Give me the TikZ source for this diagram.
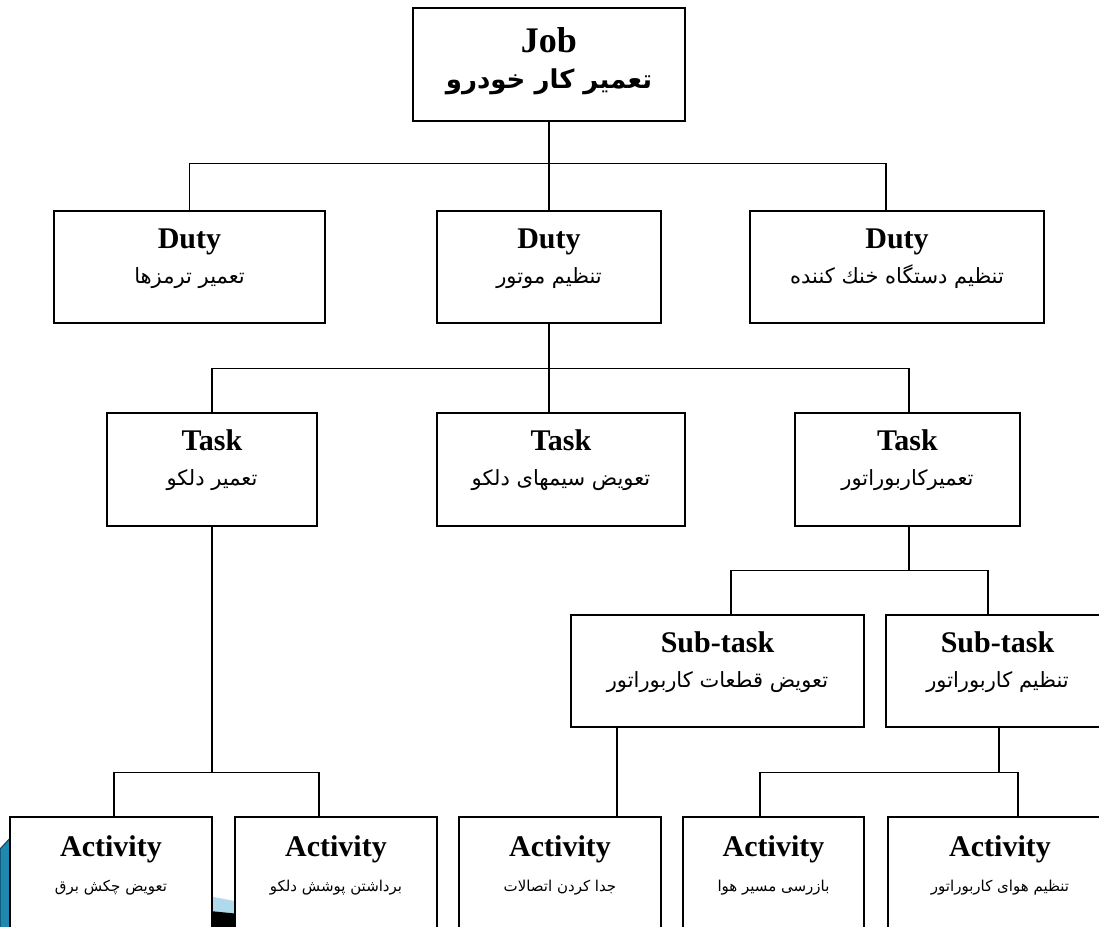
\documentclass[tikz,border=0pt]{standalone}
\usepackage{fontspec}
\setmainfont{Liberation Serif}
\newfontfamily\arabicfont[Script=Arabic]{DejaVu Sans}
\TeXXeTstate=1
\newcommand{\fatext}[1]{{\arabicfont\fontsize{21}{35}\selectfont\beginR #1\endR}}
\newcommand{\fasmall}[1]{{\arabicfont\fontsize{15}{35}\selectfont\beginR #1\endR}}
\definecolor{swoosh}{RGB}{30,136,176}
\definecolor{swooshedge}{RGB}{12,70,100}
\definecolor{paleblue}{RGB}{176,218,236}
\tikzset{
	boxnode/.style = {
		align=center,
		inner sep=0pt,
		draw=black,
		fill=white,
		line width=1.2pt,
		font=\fontsize{30}{35}\selectfont,
		text height=55pt,
		text depth=23pt,
		minimum height=112pt
	},
	node_job/.style = {
		boxnode,
		font=\fontsize{36}{36}\selectfont,
		text height=60pt,
		text depth=13pt,
		minimum height=113pt
	},
	node_duty/.style = {
		boxnode
	},
	node_act/.style = {
		boxnode,
		text height=57pt,
		text depth=21pt,
		minimum height=113pt
	},
	conn/.style = {
		line width=1.2pt,
		draw=black
	}
}
\begin{document}
\begin{tikzpicture}[x=1pt, y=-1pt]
\useasboundingbox (0,0) rectangle (1099,926);
\clip (0,0) rectangle (1099,926);

\fill[swoosh, draw=swooshedge, line width=1pt] (0,849) -- (12,836) -- (130,872) -- (130,930) -- (0,930) -- cycle;
\fill[paleblue] (150,885) -- (240,902) -- (240,916) -- (150,905) -- cycle;
\fill[black] (150,905) -- (240,914) -- (240,930) -- (150,930) -- cycle;

\node[node_job, minimum width=272pt] (job) at (549,64.5)
	{\textbf{Job}\\{\bfseries\fatext{\fontsize{26}{36}\selectfont تعمیر کار خودرو}}};

\node[node_duty, minimum width=271pt] (duty1) at (189.5,267) {\textbf{Duty}\\\fatext{تعمیر ترمزها}};
\node[node_duty, minimum width=224pt] (duty2) at (549,267) {\textbf{Duty}\\\fatext{تنظیم موتور}};
\node[node_duty, minimum width=294pt] (duty3) at (897,267) {\textbf{Duty}\\\fatext{تنظیم دستگاه خنك کننده}};

\node[node_duty, minimum width=210pt, minimum height=113pt] (task1) at (212,469.5) {\textbf{Task}\\\fatext{تعمیر دلکو}};
\node[node_duty, minimum width=248pt, minimum height=113pt] (task2) at (561,469.5) {\textbf{Task}\\\fatext{تعویض سیمهای دلکو}};
\node[node_duty, minimum width=225pt, minimum height=113pt] (task3) at (907.5,469.5) {\textbf{Task}\\\fatext{تعمیرکاربوراتور}};

\node[node_duty, minimum width=293pt] (sub1) at (717.5,671) {\textbf{Sub-task}\\\fatext{تعویض قطعات کاربوراتور}};
\node[node_duty, minimum width=223pt] (sub2) at (997.5,671) {\textbf{Sub-task}\\\fatext{تنظیم کاربوراتور}};

\node[node_act, minimum width=202pt] (act1) at (111,873.5) {\textbf{Activity}\\\fasmall{تعویض چکش برق}};
\node[node_act, minimum width=202pt] (act2) at (336,873.5) {\textbf{Activity}\\\fasmall{برداشتن پوشش دلکو}};
\node[node_act, minimum width=202pt] (act3) at (560,873.5) {\textbf{Activity}\\\fasmall{جدا کردن اتصالات}};
\node[node_act, minimum width=181pt] (act4) at (773.5,873.5) {\textbf{Activity}\\\fasmall{بازرسی مسیر هوا}};
\node[node_act, minimum width=224pt] (act5) at (1000,873.5) {\textbf{Activity}\\\fasmall{تنظیم هوای کاربوراتور}};

\draw[conn] (job.south) -- ++(0,42) -| (duty1.north);
\draw[conn] (job.south) -- ++(0,42) -| (duty2.north);
\draw[conn] (job.south) -- ++(0,42) -| ([xshift=-11pt]duty3.north);

\draw[conn] (duty2.south) -- ++(0,45) -| (task1.north);
\draw[conn] (duty2.south) -- ++(0,45) -| ([xshift=-12pt]task2.north);
\draw[conn] (duty2.south) -- ++(0,45) -| ([xshift=1.5pt]task3.north);

\draw[conn] ([xshift=1.5pt]task3.south) -- ++(0,44) -| ([xshift=13.5pt]sub1.north);
\draw[conn] ([xshift=1.5pt]task3.south) -- ++(0,44) -| ([xshift=-9.5pt]sub2.north);

\draw[conn] (task1.south) -- ++(0,246) -| ([xshift=3pt]act1.north);
\draw[conn] (task1.south) -- ++(0,246) -| ([xshift=-17pt]act2.north);
\draw[conn] ([xshift=-100.5pt]sub1.south) -- ([xshift=57pt]act3.north);
\draw[conn] ([xshift=1.5pt]sub2.south) -- ++(0,45) -| ([xshift=-13.5pt]act4.north);
\draw[conn] ([xshift=1.5pt]sub2.south) -- ++(0,45) -| ([xshift=18pt]act5.north);
\end{tikzpicture}
\end{document}
